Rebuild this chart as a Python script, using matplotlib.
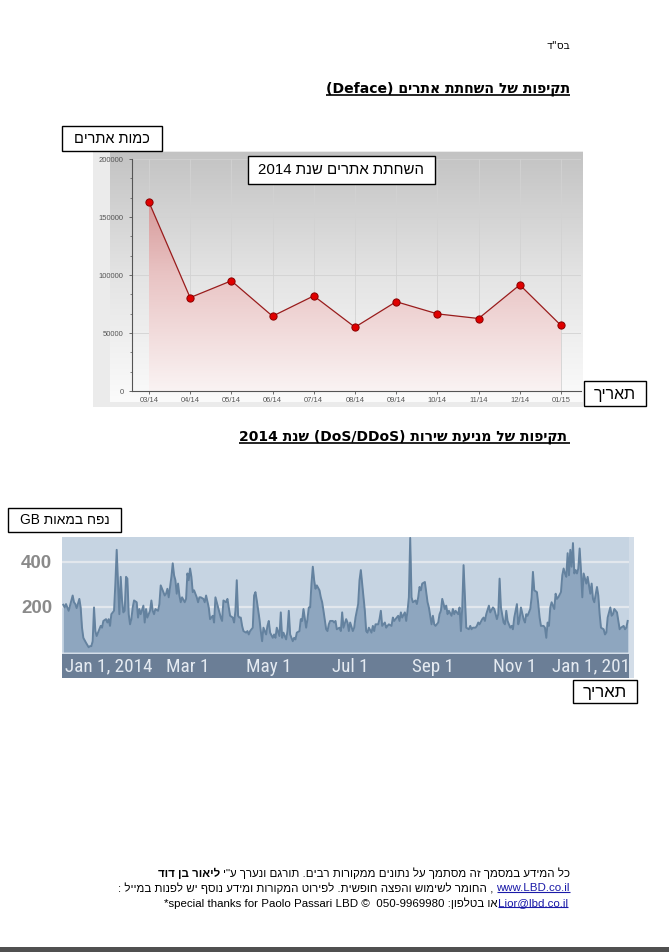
import numpy as np
import matplotlib
matplotlib.use('Agg')
import matplotlib.pyplot as plt
from matplotlib.colors import LinearSegmentedColormap
from matplotlib.patches import Rectangle
from matplotlib.ticker import AutoMinorLocator

plt.rcParams['font.family'] = ['Liberation Sans', 'DejaVu Sans']

# chart 1: defaced sites per month
months = ['03/14', '04/14', '05/14', '06/14', '07/14', '08/14',
          '09/14', '10/14', '11/14', '12/14', '01/15']
deface = [163000, 80500, 95000, 64500, 82000, 55000,
          77000, 66500, 62500, 91500, 56500]
deface_ticks = [0, 50000, 100000, 150000, 200000]

# chart 2: DoS traffic in hundreds of GB, day number counted from 2014-01-01
dos_day = [
    -34, -33, -32, -30, -29, -27, -26, -25, -24, -22,
    -21, -20, -19, -17, -15, -14, -13, -12, -11, -10,
    -9, -7, -6, -5, -4, -2, -1, 0, 1, 2,
    4, 5, 6, 7, 8, 9, 10, 11, 12, 13,
    14, 15, 16, 17, 18, 19, 21, 22, 23, 24,
    26, 27, 28, 29, 31, 32, 33, 34, 35, 37,
    38, 39, 40, 42, 43, 44, 45, 47, 48, 49,
    50, 51, 52, 53, 54, 55, 57, 58, 59, 60,
    61, 62, 63, 64, 66, 67, 68, 69, 71, 72,
    73, 75,
    76, 78, 79, 80, 81, 83, 84, 85, 86, 88,
    89, 90, 91, 93, 94, 95, 96, 97, 98, 99,
    100, 101, 103, 104, 105, 106, 108, 109, 110, 111,
    113, 114, 115, 116, 118, 119, 120, 121, 123, 124,
    125, 126, 128, 129, 130, 131, 133, 134, 135, 136,
    138, 139, 140, 141, 143, 144, 145, 146, 148, 149,
    150, 151, 152, 153, 154, 155, 156, 158, 159, 160,
    161, 163, 164, 165, 166, 168, 169, 170, 171, 173,
    174, 175, 176, 178, 179, 180, 181,
    183, 184, 185, 187, 188, 189, 190, 192, 193, 194,
    195, 197, 198, 199, 200, 202, 203, 204, 205, 207,
    208, 209, 210, 212, 213, 214, 215, 217, 218, 219,
    220, 222, 223, 224, 225, 226, 227, 228, 230, 231,
    232, 233, 234, 235, 237, 238, 239, 240, 242, 243,
    244, 245, 247, 248, 249, 250, 252, 253, 254, 255,
    257, 258, 259, 260, 262, 263, 264, 265, 266, 267,
    268, 270, 271, 272, 273, 275, 276, 277, 278, 280,
    281, 282, 283, 285, 286, 288,
    289, 291, 292, 293, 294, 296, 297, 298, 299, 301,
    302, 303, 304, 306, 307, 308, 309, 311, 312, 313,
    314, 316, 317, 318, 319, 321, 322, 323, 324, 326,
    327, 328, 329, 330, 331, 332, 334, 335, 336, 337,
    339, 340, 341, 342, 343, 344, 345, 346, 347, 348,
    349, 350, 351, 352, 353, 354, 355, 356, 358, 359,
    361, 362, 363, 364, 366, 367, 368, 369, 371, 372,
    373, 374, 376, 377, 378, 379, 381, 382, 383, 384,
    386, 387, 388, 389]
dos_gb = [
    210, 198, 213, 183, 206, 251, 221, 213, 195, 236,
    198, 108, 63, 41, 21, 26, 26, 48, 198, 93,
    71, 101, 116, 108, 138, 146, 131, 146, 116, 168,
    183, 304, 454, 304, 168, 334, 229, 176, 183, 334,
    326, 168, 123, 146, 198, 229, 221, 153, 191, 168,
    206, 131, 191, 153, 183, 229, 183, 168, 191, 183,
    213, 296, 281, 251, 259, 281, 243, 334, 394, 341,
    319, 259, 304, 251, 221, 243, 221, 236, 349, 319,
    371, 334, 266, 274, 243, 221, 243, 243, 236, 221,
    251, 198,
    146, 161, 131, 243, 221, 176, 153, 138, 229, 221,
    236, 198, 161, 153, 131, 183, 319, 161, 153, 153,
    116, 93, 86, 93, 78, 93, 108, 251, 266, 229,
    146, 93, 48, 108, 78, 116, 138, 86, 63, 78,
    63, 108, 71, 176, 63, 86, 56, 93, 183, 78,
    48, 63, 56, 86, 93, 146, 138, 191, 108, 146,
    198, 198, 304, 379, 319, 281, 296, 274, 243, 221,
    183, 101, 93, 123, 138, 138, 131, 138, 101, 108,
    93, 176, 108, 146, 131, 93, 131,
    93, 108, 153, 213, 319, 364, 304, 183, 93, 86,
    108, 86, 116, 93, 123, 123, 146, 183, 116, 131,
    108, 116, 123, 116, 153, 138, 146, 161, 138, 176,
    153, 176, 138, 183, 243, 507, 243, 221, 229, 213,
    243, 289, 274, 304, 311, 266, 221, 198, 123, 161,
    123, 116, 131, 168, 183, 236, 191, 206, 168, 183,
    161, 191, 168, 183, 168, 198, 93, 198, 386, 243,
    108, 101, 116, 101, 108, 108, 116, 131, 123, 146,
    153, 138, 168, 206, 176, 198,
    191, 146, 168, 326, 198, 131, 123, 183, 138, 108,
    116, 101, 153, 213, 123, 146, 198, 146, 131, 168,
    161, 191, 243, 356, 274, 266, 213, 153, 116, 116,
    108, 63, 131, 116, 198, 221, 191, 259, 236, 243,
    266, 341, 371, 349, 334, 439, 341, 454, 379, 484,
    349, 364, 349, 371, 460, 364, 243, 349, 304, 334,
    259, 304, 236, 221, 289, 251, 168, 108, 101, 78,
    86, 153, 198, 161, 168, 191, 176, 138, 101, 108,
    116, 101, 108, 138]
gb_ticks = [200, 400]
date_ticks = ['2014-01-01', '2014-03-01', '2014-05-01', '2014-07-01',
              '2014-09-01', '2014-11-01', '2015-01-01']
date_labels = ['Jan 1, 2014', 'Mar 1', 'May 1', 'Jul 1', 'Sep 1', 'Nov 1',
               'Jan 1, 2015']

W, H = 669, 952
fig = plt.figure(figsize=(W / 100, H / 100), dpi=100)
R = fig.canvas.get_renderer()


def px_axes(x0, y0, x1, y1, **kw):
    # axes placed by page pixels, y counted from the top
    return fig.add_axes([x0 / W, 1 - y1 / H, (x1 - x0) / W, (y1 - y0) / H], **kw)


def layer():
    a = px_axes(0, 0, W, H)
    a.set_xlim(0, W)
    a.set_ylim(H, 0)
    a.axis('off')
    return a


def rtl(s):
    # matplotlib lays glyphs left to right, so hebrew goes in reversed
    return s[::-1]


def width(t):
    return t.get_window_extent(R).width


def fit(t, w):
    t.set_fontsize(t.get_fontsize() * w / width(t))
    return t


def underline(ax, t, color='black', lw=1.0, extra=0):
    bb = t.get_window_extent(R)
    y = H - bb.y0 - 1
    ax.plot([bb.x0, bb.x1 + extra], [y, y], color=color, lw=lw,
            solid_capstyle='butt')


bg = layer()

# ---- chart 1 background panel
bg.add_patch(Rectangle((93, 151), 490, 256, fc='#ebebeb', lw=0))
g = px_axes(110, 152, 583, 402)
g.imshow(np.linspace(0, 1, 256)[:, None], aspect='auto',
         cmap=LinearSegmentedColormap.from_list('bg', ['#c3c3c3', '#e4e4e4', '#fbfbfb']))
g.axis('off')

ax1 = px_axes(132, 159, 581, 391, facecolor='none')
x = np.arange(len(months))
poly = ax1.fill_between(x, deface, 0, color='none', lw=0)
pink = LinearSegmentedColormap.from_list('pink', ['#faf3f3', '#e9c4c4', '#cc8282'])
grad = ax1.imshow(np.linspace(0, 1, 256)[:, None], origin='lower', aspect='auto',
                  extent=(x[0], x[-1], 0, deface_ticks[-1]), cmap=pink, zorder=1)
grad.set_clip_path(poly.get_paths()[0], transform=ax1.transData)
ax1.plot(x, deface, color='#991c1c', lw=0.9, marker='o', ms=5.2,
         mfc='#e00000', mec='#8a0000', mew=0.7, zorder=3)
ax1.set_xlim(-0.41, len(months) - 1 + 0.485)
ax1.set_ylim(0, deface_ticks[-1])
ax1.set_xticks(x, months)
ax1.set_yticks(deface_ticks, [str(v) for v in deface_ticks])
ax1.yaxis.set_minor_locator(AutoMinorLocator(3))
ax1.tick_params(labelsize=5.5, colors='#555555', length=2.5, width=0.6, pad=1.8)
ax1.tick_params(axis='y', pad=3.5)
ax1.tick_params(which='minor', length=1.8, width=0.5, colors='#555555')
ax1.grid(True, which='major', color='#d2d2d2', lw=0.6)
ax1.set_axisbelow(True)
for s in ['top', 'right']:
    ax1.spines[s].set_visible(False)
for s in ['left', 'bottom']:
    ax1.spines[s].set_color('#555555')
    ax1.spines[s].set_linewidth(0.8)

# ---- chart 2
bg.add_patch(Rectangle((62, 537), 572, 141, fc='#d3dde8', lw=0))
ax2 = px_axes(62, 537, 629, 652, facecolor='#c6d4e2')
dates = np.datetime64('2014-01-01') + np.array(dos_day, dtype='timedelta64[D]')
ax2.fill_between(dates, dos_gb, 0, color='#8ea6bf', lw=0, zorder=2)
ax2.plot(dates, dos_gb, color='#64829f', lw=1.4, zorder=3)
ax2.set_xlim(np.datetime64('2013-11-27'), np.datetime64('2015-01-26'))
ax2.set_ylim(0, 511)
ax2.set_xticks([])
ax2.set_yticks(gb_ticks, [str(v) for v in gb_ticks], fontweight='bold')
ax2.tick_params(axis='y', length=0, pad=7, labelsize=13.5, labelcolor='#8a8a8a')
ax2.grid(axis='y', color='#e2e7ed', lw=1.6, zorder=1)
ax2.set_axisbelow(True)
for s in ax2.spines.values():
    s.set_visible(False)

axb = px_axes(62, 654, 629, 678, facecolor='#6b7e96', sharex=ax2)
axb.set_ylim(0, 1)
axb.tick_params(left=False, bottom=False, labelleft=False, labelbottom=False)
for s in axb.spines.values():
    s.set_visible(False)
narrow = ['Roboto Condensed', 'Liberation Sans Narrow', 'DejaVu Sans Condensed',
          'Liberation Sans']
tick_x = np.array(date_ticks, dtype='datetime64[D]')
size = None
for d, lab in zip(tick_x, date_labels):
    t = axb.text(d, 0.47, lab, transform=axb.get_xaxis_transform(), ha='center',
                 va='center', color='#e4eaf1', family=narrow, fontsize=14,
                 clip_on=True)
    if size is None:
        size = fit(t, 88).get_fontsize()
    t.set_fontsize(size)

top = layer()


def label_box(x0, y0, x1, y1, text, tw):
    top.add_patch(Rectangle((x0, y0), x1 - x0, y1 - y0, fc='white', ec='black', lw=1))
    fit(top.text((x0 + x1) / 2, (y0 + y1) / 2 + 0.5, text, ha='center', va='center',
                 fontsize=11), tw)


label_box(62, 126, 162, 151, rtl('כמות אתרים'), 76)
label_box(248, 156, 435, 184, '2014 ' + rtl('השחתת אתרים שנת'), 166)
label_box(584, 381, 646, 406, rtl('תאריך'), 42)
label_box(8, 508, 121, 532, 'GB ' + rtl('נפח במאות'), 90)
label_box(573, 680, 637, 703, rtl('תאריך'), 44)

# ---- page headings
fit(top.text(570, 46, rtl('בס"ד'), ha='right', va='center', fontsize=8,
             family=['DejaVu Sans']), 24)
h1 = fit(top.text(570, 89, '(Deface) ' + rtl('תקיפות של השחתת אתרים'), ha='right',
                  va='center', fontsize=10, fontweight='bold', family=['DejaVu Sans']), 244)
underline(top, h1, lw=1.2)
h2 = fit(top.text(567, 437, '2014 ' + rtl('שנת') + ' (DoS/DDoS) ' +
                  rtl('תקיפות של מניעת שירות'), ha='right', va='center', fontsize=10,
                  fontweight='bold', family=['DejaVu Sans']), 327)
underline(top, h2, lw=1.2, extra=3)

# ---- footer, laid out right to left
link = '#1a1aa8'
t2 = fit(top.text(490, 888,
                  ': ' + rtl('החומר לשימוש והפצה חופשית. לפירוט המקורות ומידע נוסף יש לפנות במייל') + ' ,',
                  ha='right', va='center', fontsize=8), 375)
fs = t2.get_fontsize()
t = top.text(570, 888, 'www.LBD.co.il', ha='right', va='center', fontsize=fs, color=link)
t2.set_x(570 - width(t) - 3)
underline(top, t, color=link, lw=0.8)

t = top.text(570, 873, rtl('כל המידע במסמך זה מסתמך על נתונים ממקורות רבים. תורגם ונערך ע"י'),
             ha='right', va='center', fontsize=fs)
top.text(570 - width(t) - 3, 873, rtl('ליאור בן דוד'), ha='right', va='center',
         fontsize=fs, fontweight='bold')

t = top.text(568, 903, 'Lior@lbd.co.il', ha='right', va='center', fontsize=fs, color=link)
underline(top, t, color=link, lw=0.8)
top.text(568 - width(t), 903, '*special thanks for Paolo Passari LBD \u00a9  050-9969980 :' + rtl('או בטלפון'),
         ha='right', va='center', fontsize=fs)

top.add_patch(Rectangle((0, 947), W, 5, fc='#505050', lw=0))

fig.savefig('out.png', dpi=100)
